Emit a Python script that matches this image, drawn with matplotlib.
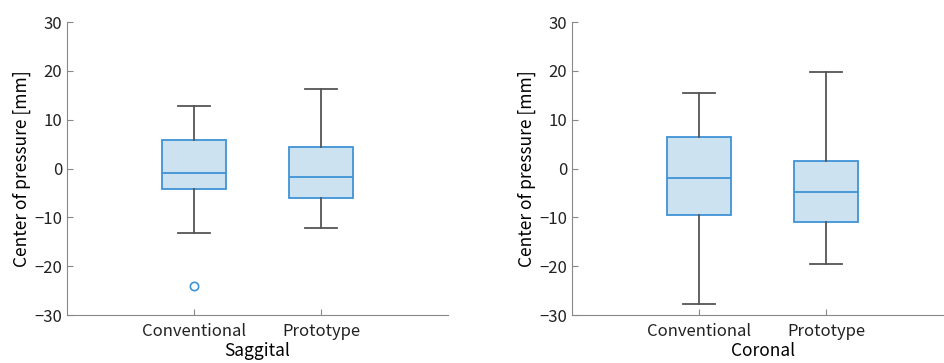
import matplotlib
matplotlib.use("Agg")
import matplotlib.pyplot as plt

plt.rcParams['font.family'] = ['Noto Sans CJK JP', 'DejaVu Sans']

# box statistics (mm)
groups = ["Conventional", "Prototype"]
sag_low = [-13.2, -12.2]
sag_q1 = [-4.2, -6.0]
sag_med = [-0.9, -1.7]
sag_q3 = [5.8, 4.4]
sag_high = [12.8, 16.3]
sag_fliers = [[-24.1], []]

cor_low = [-27.8, -19.6]
cor_q1 = [-9.4, -10.9]
cor_med = [-2.0, -4.75]
cor_q3 = [6.4, 1.5]
cor_high = [15.5, 19.7]
cor_fliers = [[], []]

blue = '#3f93d6'
fill = '#cce2f1'
gray = '#555555'


def make_stats(low, q1, med, q3, high, fliers):
    stats = []
    for i in range(len(groups)):
        stats.append(dict(label=groups[i], whislo=low[i], q1=q1[i], med=med[i],
                          q3=q3[i], whishi=high[i], fliers=fliers[i]))
    return stats


def draw(ax, stats, name):
    ax.bxp(stats, positions=[1, 2], widths=0.5, patch_artist=True,
           boxprops=dict(facecolor=fill, edgecolor=blue, linewidth=1.3),
           medianprops=dict(color=blue, linewidth=1.3),
           whiskerprops=dict(color=gray, linewidth=1.3),
           capprops=dict(color=gray, linewidth=1.3),
           capwidths=0.25,
           flierprops=dict(marker='o', markerfacecolor='none', markeredgecolor=blue,
                           markersize=6, markeredgewidth=1.2))
    ax.set_xlim(0, 3)
    ax.set_ylim(-30, 30)
    ax.set_yticks([-30, -20, -10, 0, 10, 20, 30])
    ax.set_xticks([1, 2])
    ax.set_xticklabels(groups)
    ax.set_xlabel(name, fontsize=12.5, labelpad=1)
    ax.set_ylabel("Center of pressure [mm]", fontsize=12.5, labelpad=2)
    for s in ['top', 'right']:
        ax.spines[s].set_visible(False)
    for s in ['left', 'bottom']:
        ax.spines[s].set_color('#888888')
    ax.tick_params(direction='in', length=4, color='#888888', labelsize=12,
                   labelcolor='#222222')
    ax.tick_params(axis='x', pad=6)


fig = plt.figure(figsize=(9.44, 3.63), dpi=100)
ax1 = fig.add_axes([0.071, 0.132, 0.4036, 0.807])
ax2 = fig.add_axes([0.606, 0.132, 0.4036, 0.807])

draw(ax1, make_stats(sag_low, sag_q1, sag_med, sag_q3, sag_high, sag_fliers), "Saggital")
draw(ax2, make_stats(cor_low, cor_q1, cor_med, cor_q3, cor_high, cor_fliers), "Coronal")

fig.savefig("out.png", dpi=100)
